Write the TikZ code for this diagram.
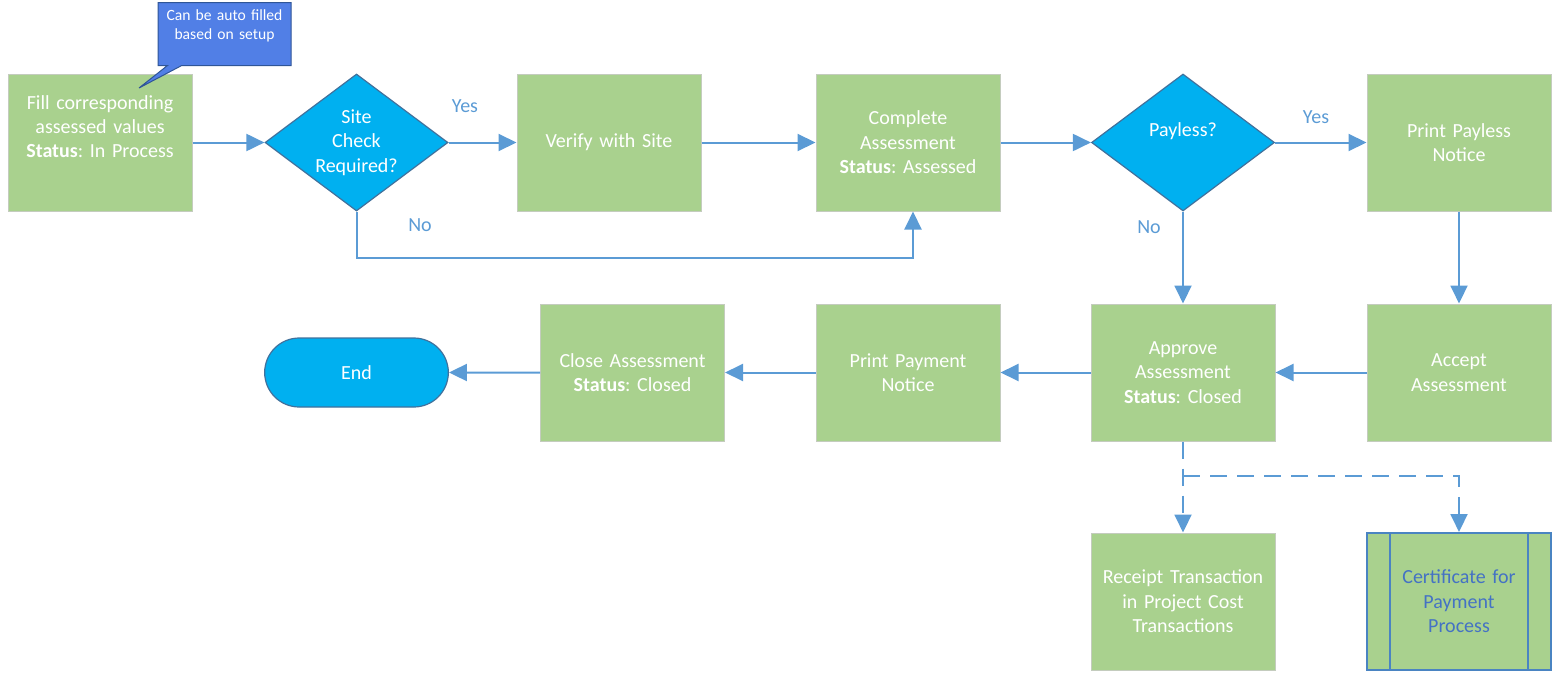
\documentclass[tikz,border=0pt]{standalone}
\usepackage{fontspec}
\setmainfont{Carlito}
\frenchspacing
\usetikzlibrary{shapes.geometric,shapes.misc,shapes.callouts,arrows.meta}
\definecolor{boxgreen}{HTML}{A9D18E}
\definecolor{boxedge}{HTML}{C4CCBE}
\definecolor{decblue}{HTML}{00B0F0}
\definecolor{decedge}{HTML}{41719C}
\definecolor{flowline}{HTML}{5B9BD5}
\definecolor{notefill}{HTML}{517FE6}
\definecolor{noteedge}{HTML}{2F5597}
\definecolor{certedge}{HTML}{4A84C2}
\definecolor{certtext}{HTML}{4472C4}
\tikzset{
    procbox/.style={rectangle, fill=boxgreen, draw=boxedge, line width=0.5pt,
        minimum width=92pt, minimum height=68.5pt, text width=88pt,
        align=center, text=white, inner sep=0pt,
        font=\fontsize{10pt}{12.2pt}\selectfont},
    certbox/.style={procbox, draw=certedge, line width=1pt, text=certtext,
        path picture={\draw[certedge, line width=1pt]
            ([xshift=11.5pt]path picture bounding box.north west) -- ([xshift=11.5pt]path picture bounding box.south west)
            ([xshift=-11.5pt]path picture bounding box.north east) -- ([xshift=-11.5pt]path picture bounding box.south east);}},
    decision/.style={diamond, fill=decblue, draw=decedge, line width=0.6pt,
        minimum width=91.5pt, minimum height=68.5pt, inner sep=0pt},
    dectext/.style={text=white, align=center, inner sep=0pt,
        font=\fontsize{10pt}{12.2pt}\selectfont},
    endbox/.style={rounded rectangle, fill=decblue, draw=decedge, line width=0.6pt,
        minimum width=98.5pt, minimum height=34.5pt, text=white,
        font=\fontsize{10pt}{12.2pt}\selectfont},
    notebox/.style={rectangle callout, fill=notefill, draw=noteedge, line width=0.5pt,
        minimum width=66.5pt, minimum height=31.5pt, text width=64pt, inner sep=0pt,
        align=center, text=white, font=\fontsize{7.8pt}{9.5pt}\selectfont},
    flow/.style={draw=flowline, line width=1pt, -{Triangle[length=9pt,width=8.5pt]}},
    dflow/.style={flow, dash pattern=on 8.5pt off 5pt},
    flowlabel/.style={text=flowline, inner sep=0pt, font=\fontsize{10pt}{12.2pt}\selectfont},
}

\begin{document}
\begin{tikzpicture}[x=0.5pt, y=-0.5pt]
    \useasboundingbox (0,0) rectangle (1561,685);

    % top row
    \node[procbox] (fill) at (100,142.5) {Fill corresponding\\assessed values\\\textbf{Status}: In Process\\\strut};
    \node[decision, label={[dectext]center:{Site\\Check\\Required?}}] (site) at (356.5,142.5) {};
    \node[procbox] (verify) at (609,142.5) {Verify with Site};
    \node[procbox] (complete) at (908,142.5) {Complete\\Assessment\\\textbf{Status}: Assessed};
    \node[decision, label={[dectext, yshift=5.5pt]center:Payless?}] (payless) at (1183,142.5) {};
    \node[procbox] (paylessnote) at (1459,142.5) {Print Payless\\Notice};

    % second row
    \node[procbox] (accept) at (1459,372.5) {Accept\\Assessment};
    \node[procbox] (approve) at (1183,372.5) {Approve\\Assessment\\\textbf{Status}: Closed};
    \node[procbox] (paynote) at (908,372.5) {Print Payment\\Notice};
    \node[procbox] (close) at (632.5,372.5) {Close Assessment\\\textbf{Status}: Closed};
    \node[endbox] (end) at (356.5,372.5) {End};

    % third row
    \node[procbox] (receipt) at (1183,601.5) {Receipt Transaction\\in Project Cost\\Transactions};
    \node[certbox] (cert) at (1459,601.5) {Certificate for\\Payment\\Process};

    \node[notebox, callout absolute pointer={(139,88)}] (note) at (224.5,34) {Can be auto filled\\based on setup\\[-3pt]\strut};

    % connectors
    \draw[flow] (fill) -- (site);
    \draw[flow] (site) -- (verify);
    \node[flowlabel] (yes1) at (465,106) {Yes};
    \draw[flow] (verify) -- (complete);
    \coordinate (nocorner) at (356.5,258);
    \draw[flow] (site.south) -- (nocorner) -| ([xshift=2.5pt]complete.south);
    \node[flowlabel] (no1) at (420,225) {No};
    \draw[flow] (complete) -- (payless);
    \draw[flow] (payless) -- (paylessnote);
    \node[flowlabel] (yes2) at (1316,117) {Yes};
    \draw[flow] (payless.south) -- (approve.north);
    \node[flowlabel] (no2) at (1149,227) {No};
    \draw[flow] (paylessnote) -- (accept);
    \draw[flow] (accept) -- (approve);
    \draw[flow] (approve) -- (paynote);
    \draw[flow] (paynote) -- (close);
    \draw[flow] (close) -- (end);

    \coordinate (split) at (1183,476);
    \draw[dflow] (approve.south) -- (receipt.north);
    \draw[dflow] (split) -| (cert.north);
\end{tikzpicture}
\end{document}
